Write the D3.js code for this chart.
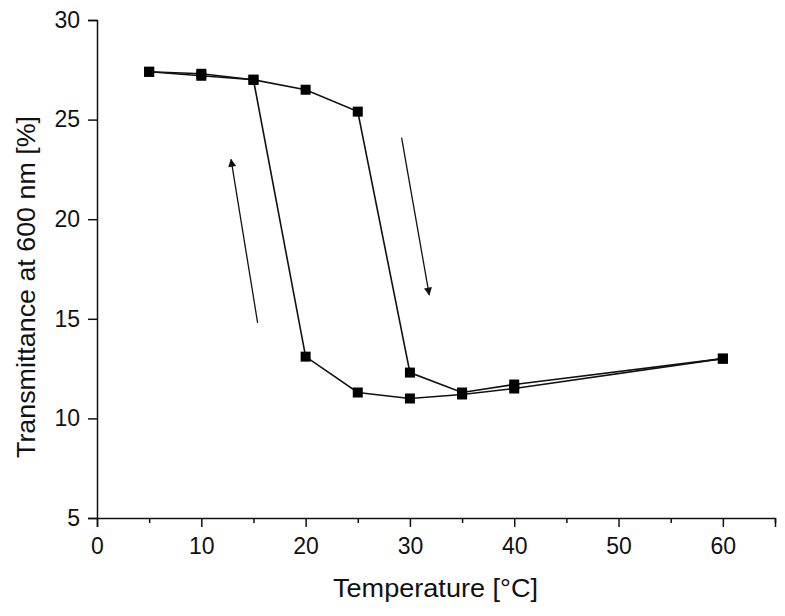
<!DOCTYPE html>
<html>
<head>
  <title>Transmittance vs Temperature</title>
  <style>
    body { margin: 0; background: #fff; }
    .tick text { font-family: "Liberation Sans", Arial, sans-serif; font-size: 23px; fill: #111; }
    .axis-title { font-family: "Liberation Sans", Arial, sans-serif; fill: #111; text-anchor: middle; }
  </style>
</head>
<body>
  <svg id="chart"></svg>
  <script src="https://d3js.org/d3.v7.min.js"></script>
  <script>
    // Data
    const heatTemps = [5, 10, 15, 20, 25, 30, 35, 40, 60];
    const heatValues = [27.4, 27.3, 27.0, 26.5, 25.4, 12.3, 11.3, 11.7, 13.0];
    const coolTemps = [60, 40, 35, 30, 25, 20, 15, 10, 5];
    const coolValues = [13.0, 11.5, 11.2, 11.0, 11.3, 13.1, 27.0, 27.2, 27.4];
    const xTicks = [0, 10, 20, 30, 40, 50, 60];
    const xMinorTicks = [5, 15, 25, 35, 45, 55, 65];
    const yTicks = [5, 10, 15, 20, 25, 30];
    // arrows: [x1, y1, x2, y2] in data units, tip at x2,y2
    const arrows = [
      [15.4, 14.8, 12.85, 23.0],
      [29.2, 24.1, 31.85, 16.2]
    ];

    const width = 785, height = 616;
    const margin = { left: 97, right: 10, top: 20, bottom: 98 };

    const svg = d3.select("#chart")
      .attr("width", width)
      .attr("height", height);

    const x = d3.scaleLinear().domain([0, 65]).range([margin.left, width - margin.right]);
    const y = d3.scaleLinear().domain([5, 30]).range([height - margin.bottom, margin.top]);

    svg.append("defs").append("marker")
      .attr("id", "arrowhead")
      .attr("viewBox", "0 0 10 10")
      .attr("refX", 9).attr("refY", 5)
      .attr("markerWidth", 13).attr("markerHeight", 8)
      .attr("markerUnits", "userSpaceOnUse")
      .attr("orient", "auto")
      .append("path")
      .attr("d", "M0,0 L10,5 L0,10 Z")
      .attr("fill", "#111");

    // x axis with minor ticks
    svg.append("g")
      .attr("transform", `translate(0,${y(5)})`)
      .call(d3.axisBottom(x).tickValues(xMinorTicks).tickSize(5).tickFormat(""))
      .call(g => g.select(".domain").remove());
    svg.append("g")
      .attr("transform", `translate(0,${y(5)})`)
      .call(d3.axisBottom(x).tickValues(xTicks).tickSizeOuter(0).tickSize(9).tickPadding(11))
      .call(g => g.selectAll("line, path").attr("stroke", "#111").attr("stroke-width", 1.5));

    svg.append("g")
      .attr("transform", `translate(${x(0)},0)`)
      .call(d3.axisLeft(y).tickValues(yTicks).tickSizeOuter(0).tickSize(9).tickPadding(8))
      .call(g => g.selectAll("line, path").attr("stroke", "#111").attr("stroke-width", 1.5));

    svg.selectAll(".tick line").attr("stroke", "#111").attr("stroke-width", 1.5);

    svg.append("text")
      .attr("class", "axis-title")
      .attr("x", 435.5)
      .attr("y", 597)
      .attr("font-size", 25)
      .attr("textLength", 205)
      .attr("lengthAdjust", "spacingAndGlyphs")
      .text("Temperature [°C]");

    svg.append("text")
      .attr("class", "axis-title")
      .attr("transform", "translate(35,287) rotate(-90)")
      .attr("font-size", 26)
      .attr("textLength", 342)
      .attr("lengthAdjust", "spacingAndGlyphs")
      .text("Transmittance at 600 nm [%]");

    const line = d3.line().x(d => x(d[0])).y(d => y(d[1]));
    const series = [
      d3.zip(heatTemps, heatValues),
      d3.zip(coolTemps, coolValues)
    ];

    svg.selectAll(".series")
      .data(series)
      .enter()
      .append("path")
      .attr("class", "series")
      .attr("d", line)
      .attr("fill", "none")
      .attr("stroke", "#111")
      .attr("stroke-width", 1.6);

    const points = series.flat();
    svg.selectAll(".pt")
      .data(points)
      .enter()
      .append("rect")
      .attr("class", "pt")
      .attr("x", d => x(d[0]) - 5)
      .attr("y", d => y(d[1]) - 5)
      .attr("width", 10)
      .attr("height", 10)
      .attr("fill", "#000");

    svg.selectAll(".arrow")
      .data(arrows)
      .enter()
      .append("line")
      .attr("class", "arrow")
      .attr("x1", d => x(d[0]))
      .attr("y1", d => y(d[1]))
      .attr("x2", d => x(d[2]))
      .attr("y2", d => y(d[3]))
      .attr("stroke", "#111")
      .attr("stroke-width", 1.3)
      .attr("marker-end", "url(#arrowhead)");
  </script>
</body>
</html>
